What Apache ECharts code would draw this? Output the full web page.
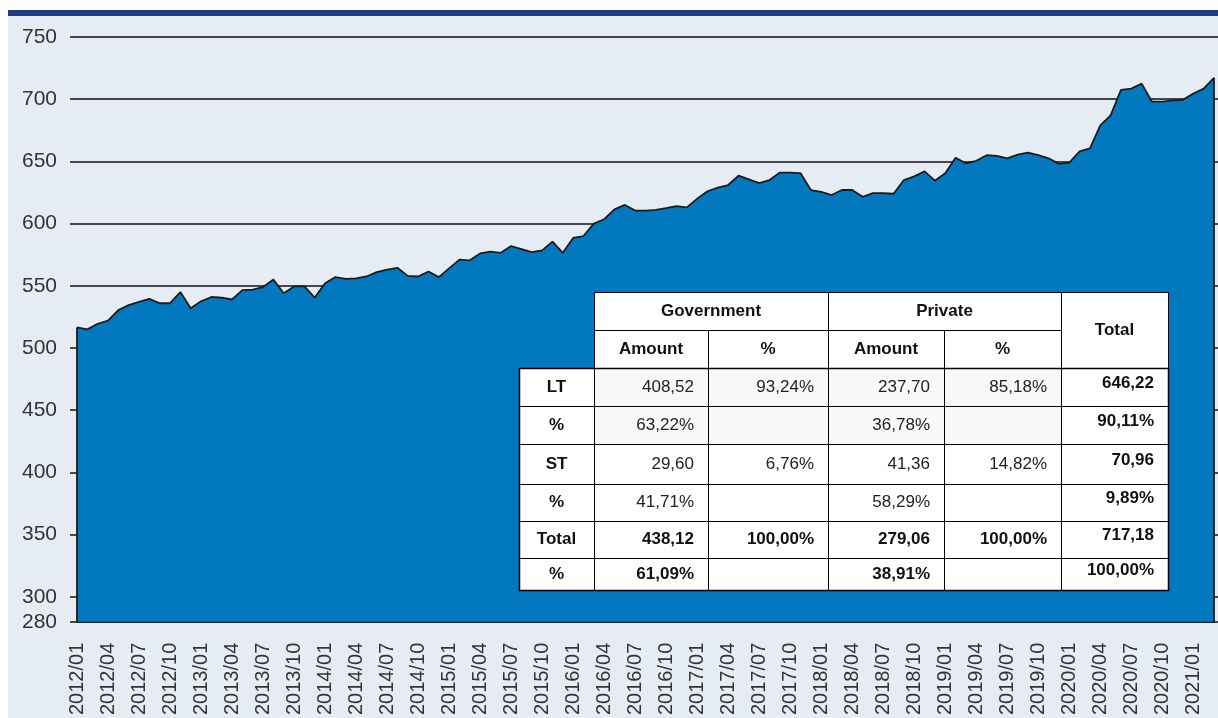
<!DOCTYPE html>
<html>
<head>
<meta charset="utf-8">
<title>Debt outstanding</title>
<script src="https://cdn.jsdelivr.net/npm/echarts@6/dist/echarts.min.js"></script>
<style>
  html, body { margin: 0; padding: 0; background: #ffffff; width: 1218px; height: 718px; overflow: hidden; }
  #frame { position: absolute; left: 8px; top: 10px; width: 1210px; height: 708px; background: #E6ECF4;
           border-top: 6px solid #1F3E86; box-sizing: border-box; }
  #chart { position: absolute; left: 0; top: 0; width: 1218px; height: 718px; }
</style>
</head>
<body>
<div id="frame"></div>
<div id="chart"></div>
<script>
// Monthly categories, 2012/01 .. 2021/03
const firstYear = 2012;
const monthCount = 111;
const months = [];
for (let i = 0; i < monthCount; i++) {
  const y = firstYear + Math.floor(i / 12);
  const m = (i % 12) + 1;
  months.push(y + '/' + (m < 10 ? '0' + m : m));
}

// Total outstanding stock, one value per month
const totalStock = [
  516.5, 515, 519.5, 522, 530.5, 534.5, 537, 539.5, 536, 536, 545, 532,
  537.5, 541, 540.5, 539, 546.5, 547, 549, 555, 544, 549.5, 549.5, 540.5,
  552, 557, 555.5, 556, 557.5, 561, 563, 564.5, 558, 557.5, 561.5, 557,
  564, 571, 570.5, 576, 577.5, 576.5, 582, 579.5, 577, 578.5, 585.5, 576.5,
  588.5, 590, 600, 603.5, 611.5, 615, 610.5, 610.5, 611, 612.5, 614, 613,
  620, 626, 629, 631, 638.5, 635.5, 632.5, 635, 641, 641, 640.5, 627,
  625.5, 623, 627, 627, 621.5, 624.5, 624.5, 624, 635, 638, 642, 634.5,
  640.5, 653, 648.5, 650.5, 655, 654.5, 652.5, 655.5, 657, 655, 652.5, 648,
  649, 658, 660.5, 679, 687, 707.5, 708.5, 712.5, 698, 698, 699, 699.5,
  704.5, 708.5, 717.18
];

// Value-axis ticks
const yMin = 280;
const yMax = 750;
const yTicks = [280, 300, 350, 400, 450, 500, 550, 600, 650, 700, 750];

// Breakdown table
const rowLabels   = ['LT', '%', 'ST', '%', 'Total', '%'];
const govAmount   = ['408,52', '63,22%', '29,60', '41,71%', '438,12', '61,09%'];
const govShare    = ['93,24%', '', '6,76%', '', '100,00%', ''];
const privAmount  = ['237,70', '36,78%', '41,36', '58,29%', '279,06', '38,91%'];
const privShare   = ['85,18%', '', '14,82%', '', '100,00%', ''];
const totalColumn = ['646,22', '90,11%', '70,96', '9,89%', '717,18', '100,00%'];
const groupHeaders = ['Government', 'Private'];
const subHeaders   = ['Amount', '%', 'Amount', '%'];
const totalHeader  = 'Total';

const FONT = '"Liberation Sans", Arial, Helvetica, sans-serif';
const INK = '#111111';

// ---- table drawn as graphic elements ----
function buildTable() {
  const x0 = 519, y0 = 292;
  const colX = [0, 75, 189, 309, 425, 542, 649];
  const rowY = [0, 38, 76, 114, 152, 192, 229, 266, 298];
  const els = [];
  const px = v => Math.round(v) + 0.5;

  function cell(xa, ya, xb, yb, fill) {
    els.push({
      type: 'rect', z: 100,
      shape: { x: px(x0 + xa), y: px(y0 + ya), width: xb - xa, height: yb - ya },
      style: { fill: fill || '#ffffff', stroke: '#000000', lineWidth: 1 }
    });
  }
  function text(str, x, y, align, bold, dy) {
    if (!str) return;
    els.push({
      type: 'text', z: 101, x: x0 + x, y: y0 + y + (dy || 0),
      style: {
        text: str, fill: bold ? '#111111' : '#222222',
        font: (bold ? 'bold ' : '') + '17px ' + FONT,
        align: align, verticalAlign: 'middle'
      }
    });
  }

  // header cells
  cell(colX[1], rowY[0], colX[3], rowY[1]);
  cell(colX[3], rowY[0], colX[5], rowY[1]);
  cell(colX[5], rowY[0], colX[6], rowY[2]);
  for (let c = 1; c <= 4; c++) cell(colX[c], rowY[1], colX[c + 1], rowY[2]);
  text(groupHeaders[0], (colX[1] + colX[3]) / 2, (rowY[0] + rowY[1]) / 2, 'center', true);
  text(groupHeaders[1], (colX[3] + colX[5]) / 2, (rowY[0] + rowY[1]) / 2, 'center', true);
  text(totalHeader, (colX[5] + colX[6]) / 2, (rowY[0] + rowY[2]) / 2, 'center', true);
  subHeaders.forEach((s, i) => text(s, (colX[i + 1] + colX[i + 2]) / 2, (rowY[1] + rowY[2]) / 2, 'center', true));

  // body: the closing "Total" row and its share row are set in bold
  const cols = [govAmount, govShare, privAmount, privShare];
  const firstBoldRow = rowLabels.indexOf('Total');
  rowLabels.forEach((lab, r) => {
    const ya = rowY[r + 2], yb = rowY[r + 3], ym = (ya + yb) / 2;
    const tinted = r < 2;
    const boldRow = r >= firstBoldRow;
    cell(colX[0], ya, colX[1], yb);
    text(lab, (colX[0] + colX[1]) / 2, ym, 'center', true);
    cols.forEach((col, c) => {
      cell(colX[c + 1], ya, colX[c + 2], yb, tinted ? '#F7F9F9' : '#ffffff');
      text(col[r], colX[c + 2] - 14, ym, 'right', boldRow);
    });
    cell(colX[5], ya, colX[6], yb);
    text(totalColumn[r], colX[6] - 14, ym, 'right', true, -4);
  });

  // outer frame of the body
  els.push({
    type: 'rect', z: 102,
    shape: { x: px(x0), y: px(y0 + rowY[2]), width: colX[6], height: rowY[8] - rowY[2] },
    style: { fill: 'none', stroke: '#000000', lineWidth: 1.5 }
  });
  return els;
}

const last = totalStock.length - 1;
const edgeStyle = { color: '#1b1b1b', width: 1.8, type: 'solid' };

const option = {
  animation: false,
  backgroundColor: 'transparent',
  textStyle: { fontFamily: FONT },
  grid: { left: 77, right: 4, top: 37, bottom: 95 },
  xAxis: {
    type: 'category',
    data: months,
    boundaryGap: false,
    axisLine: { show: true, lineStyle: { color: INK, width: 1.5 } },
    axisTick: { show: false },
    axisLabel: { interval: 2, rotate: 90, margin: 21, fontSize: 20, color: '#333333', fontFamily: FONT },
    splitLine: { show: false }
  },
  yAxis: [
    {
      type: 'value', position: 'left', min: yMin, max: yMax,
      axisLine: { show: false },
      axisTick: { show: true, length: 7, customValues: yTicks, lineStyle: { color: INK, width: 1.5 } },
      axisLabel: { customValues: yTicks, fontSize: 21, color: '#333333', margin: 20, fontFamily: FONT },
      splitLine: { show: true, lineStyle: { color: INK, width: 1.5 } }
    },
    {
      type: 'value', position: 'right', min: yMin, max: yMax,
      axisLine: { show: false },
      axisTick: { show: true, length: 4, customValues: yTicks, lineStyle: { color: INK, width: 1.5 } },
      axisLabel: { show: false },
      splitLine: { show: false }
    }
  ],
  series: [{
    type: 'line',
    data: totalStock,
    yAxisIndex: 0,
    symbol: 'none',
    lineStyle: { color: '#1b1b1b', width: 1.8 },
    areaStyle: { color: '#0279BE', opacity: 1 },
    markLine: {
      silent: true,
      symbol: ['none', 'none'],
      label: { show: false },
      lineStyle: edgeStyle,
      emphasis: { disabled: true },
      data: [
        [{ coord: [months[0], yMin] }, { coord: [months[0], totalStock[0]] }],
        [{ coord: [months[last], yMin] }, { coord: [months[last], totalStock[last]] }]
      ]
    }
  }],
  graphic: buildTable()
};

const chart = echarts.init(document.getElementById('chart'));
chart.setOption(option);
</script>
</body>
</html>
